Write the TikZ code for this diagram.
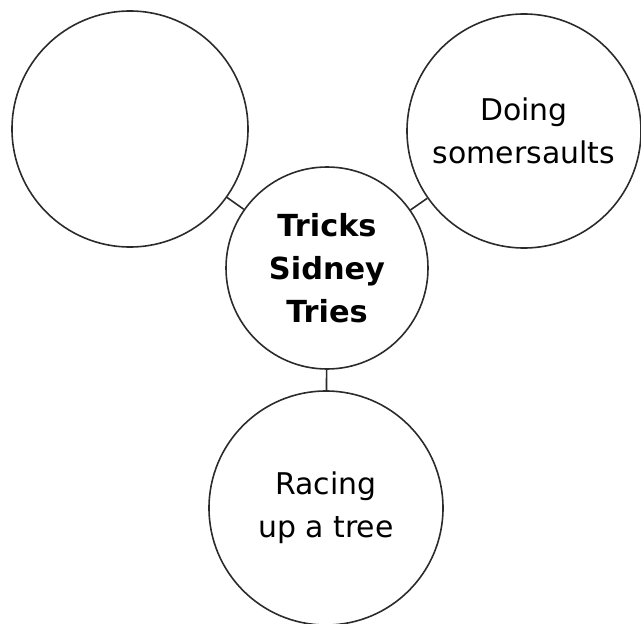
\documentclass[tikz,border=0pt]{standalone}
\usepackage{fontspec}
\setmainfont{DejaVu Sans}
\usepackage{xcolor}
\definecolor{linegray}{HTML}{2B2B2B}
\usepackage{tikz}
\usetikzlibrary{positioning}

\begin{document}
\begin{tikzpicture}[x=1bp, y=-1bp,
    bubble/.style={circle, draw=linegray, line width=1.6pt, inner sep=0pt,
      align=center, font=\fontsize{30}{43}\selectfont},
    link/.style={draw=linegray, line width=1.6pt}]
  \useasboundingbox (0,0) rectangle (641,624);

  \node[bubble, minimum size=202bp, font=\fontsize{30.5}{43}\selectfont\bfseries] (hub) at (327,268) {Tricks\\Sidney\\Tries};
  \node[bubble, minimum size=236bp] (empty) at (130,129) {};
  \node[bubble, minimum size=234bp] (somersaults) at (524,131) {Doing\\somersaults};
  \node[bubble, minimum size=234bp] (tree) at (326,508) {Racing\\up a tree};

  \draw[link] (empty) -- (hub);
  \draw[link] (somersaults) -- (hub);
  \draw[link] (hub) -- (tree);
\end{tikzpicture}
\end{document}
